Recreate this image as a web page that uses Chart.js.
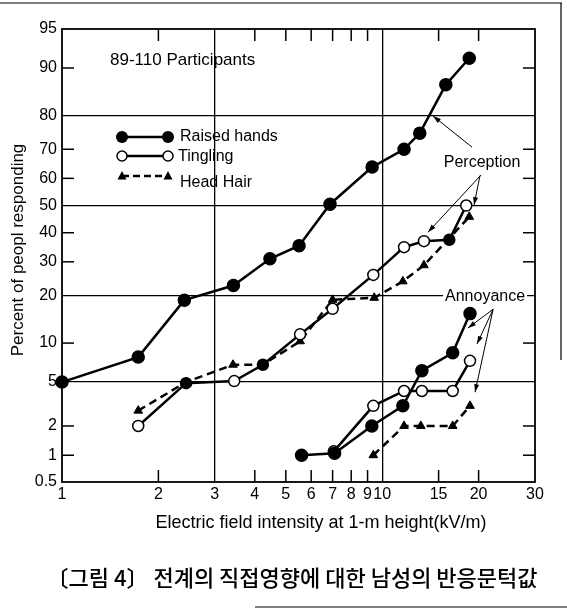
<!DOCTYPE html>
<html>
<head>
<meta charset="utf-8">
<script src="https://cdn.jsdelivr.net/npm/chart.js@4.4.1/dist/chart.umd.min.js"></script>
<style>
  html, body { margin: 0; padding: 0; background: #fff; }
  canvas { display: block; }
</style>
</head>
<body>
<canvas id="chart" width="567" height="611"></canvas>
<script>
// Perception
const percRaisedX = [1, 1.73, 2.41, 3.43, 4.46, 5.5, 6.87, 9.3, 11.7, 13.1, 15.8, 18.7];
const percRaisedY = [5, 7.9, 18.9, 22.8, 31, 35.4, 50.5, 64, 70, 75, 87, 91.5];
const percTingleX = [1.73, 2.44, 3.45, 4.24, 5.54, 7.0, 9.38, 11.7, 13.5, 16.2, 18.3];
const percTingleY = [2, 4.9, 5.1, 6.9, 11.5, 16.8, 25.9, 34.9, 37, 37.5, 50];
const percHairX = [1.73, 2.44, 3.42, 4.24, 5.54, 7.0, 9.44, 11.6, 13.5, 18.7];
const percHairY = [2.8, 5, 6.9, 6.9, 10.3, 19, 19.5, 24, 28.9, 45.8];

// Annoyance
const annRaisedX = [5.6, 7.1, 9.28, 11.6, 13.3, 16.6, 18.8];
const annRaisedY = [1, 1.05, 2, 3.1, 6.2, 8.5, 15.7];
const annTingleX = [7.06, 9.38, 11.7, 13.3, 16.6, 18.8];
const annTingleY = [1.1, 3.1, 4.2, 4.2, 4.2, 7.4];
const annHairX = [9.38, 11.7, 13.2, 16.6, 18.8];
const annHairY = [1, 2, 2, 2, 3.1];

// axes
const xTicks = [1, 2, 3, 4, 5, 6, 7, 8, 9, 10, 15, 20, 30];
const xGrid = [3, 10];
const yTickLabels = ['0.5', '1', '2', '5', '10', '20', '30', '40', '50', '60', '70', '80', '90', '95'];
const yGrid = ['5', '20', '50', '80'];

// normal probability paper: percent -> probit (Acklam)
function probit(pct) {
  const p = pct / 100;
  const a = [-39.69683028665376, 220.9460984245205, -275.9285104469687, 138.3577518672690, -30.66479806614716, 2.506628277459239];
  const b = [-54.47609879822406, 161.5858368580409, -155.6989798598866, 66.80131188771972, -13.28068155288572];
  const c = [-0.007784894002430293, -0.3223964580411365, -2.400758277161838, -2.549732539343734, 4.374664141464968, 2.938163982698783];
  const d = [0.007784695709041462, 0.3224671290700398, 2.445134137142996, 3.754408661907416];
  const pl = 0.02425;
  let q, r;
  if (p < pl) {
    q = Math.sqrt(-2 * Math.log(p));
    return (((((c[0]*q+c[1])*q+c[2])*q+c[3])*q+c[4])*q+c[5]) / ((((d[0]*q+d[1])*q+d[2])*q+d[3])*q+1);
  }
  if (p > 1 - pl) {
    q = Math.sqrt(-2 * Math.log(1 - p));
    return -(((((c[0]*q+c[1])*q+c[2])*q+c[3])*q+c[4])*q+c[5]) / ((((d[0]*q+d[1])*q+d[2])*q+d[3])*q+1);
  }
  q = p - 0.5; r = q * q;
  return (((((a[0]*r+a[1])*r+a[2])*r+a[3])*r+a[4])*r+a[5])*q / (((((b[0]*r+b[1])*r+b[2])*r+b[3])*r+b[4])*r+1);
}

function pts(xs, ys) {
  return xs.map((v, i) => ({ x: v, y: probit(ys[i]) }));
}

const FONT = '"Liberation Sans", Arial, sans-serif';

function solidSet(xs, ys, filled) {
  return {
    data: pts(xs, ys),
    borderColor: '#000',
    borderWidth: 2.5,
    pointRadius: filled ? 6 : 5.5,
    pointStyle: 'circle',
    pointBackgroundColor: filled ? '#000' : '#fff',
    pointBorderColor: '#000',
    pointBorderWidth: 1.5,
    tension: 0,
    clip: false
  };
}
function dashedSet(xs, ys) {
  return {
    data: pts(xs, ys),
    borderColor: '#000',
    borderWidth: 2.5,
    borderDash: [8, 5],
    pointRadius: 5,
    pointStyle: 'triangle',
    pointBackgroundColor: '#000',
    pointBorderColor: '#000',
    pointBorderWidth: 1,
    tension: 0,
    clip: false
  };
}

const percTingle = solidSet(percTingleX, percTingleY, false);
// overprinted points look solid in the print
percTingle.pointBackgroundColor = percTingleX.map((v, i) => (i === 1 || i === 3 || i === 9) ? '#000' : '#fff');

// text notes, positioned in data space (kV/m, percent)
const notes = [
  { text: 'Perception', x: 20.5, y: 65.7 },
  { text: 'Annoyance', x: 20.95, y: 19.7 }
];
const arrows = [
  { from: [19.07, 70.7], to: [14.41, 79.8] },
  { from: [20.35, 61.2], to: [13.9, 40.2] },
  { from: [20.2, 61.0], to: [19.35, 50.2] },
  { from: [22.2, 16.7], to: [18.53, 12.7] },
  { from: [22.2, 16.7], to: [19.77, 9.85] },
  { from: [22.2, 16.7], to: [19.49, 4.1] }
];

function line(ctx, x1, y1, x2, y2) {
  ctx.beginPath(); ctx.moveTo(x1, y1); ctx.lineTo(x2, y2); ctx.stroke();
}

const overlay = {
  id: 'overlay',
  afterDraw(chart) {
    const ctx = chart.ctx;
    const a = chart.chartArea;
    const xs = chart.scales.x, ys = chart.scales.y;
    ctx.save();
    ctx.strokeStyle = '#000';
    ctx.fillStyle = '#000';

    // page frame (scan border)
    ctx.lineWidth = 1.2;
    line(ctx, 0, 3, 562, 3);
    line(ctx, 561, 3, 561, 360);
    line(ctx, 255, 607, 567, 607);

    // plot box
    ctx.lineWidth = 1.8;
    ctx.strokeRect(a.left, a.top, a.right - a.left, a.bottom - a.top);

    // inward ticks
    ctx.lineWidth = 1.5;
    xTicks.forEach(v => {
      if (xGrid.includes(v) || v === 1 || v === 30) return;
      const px = xs.getPixelForValue(v);
      line(ctx, px, a.bottom, px, a.bottom - 12);
      line(ctx, px, a.top, px, a.top + 12);
    });
    yTickLabels.forEach((lab, i) => {
      if (yGrid.includes(lab) || i === 0 || i === yTickLabels.length - 1) return;
      const py = ys.getPixelForValue(probit(parseFloat(lab)));
      line(ctx, a.left, py, a.left + 12, py);
      line(ctx, a.right, py, a.right - 12, py);
    });

    // participants
    ctx.font = '17px ' + FONT;
    ctx.textAlign = 'left';
    ctx.textBaseline = 'middle';
    ctx.fillText('89-110 Participants', a.left + 48, a.top + 31);

    // legend
    const lx1 = a.left + 60, lx2 = a.left + 106;
    const rows = [a.top + 108, a.top + 127, a.top + 147];
    ctx.lineWidth = 2.5;
    line(ctx, lx1, rows[0], lx2, rows[0]);
    line(ctx, lx1, rows[1], lx2, rows[1]);
    ctx.setLineDash([7, 4]);
    line(ctx, lx1, rows[2], lx2, rows[2]);
    ctx.setLineDash([]);
    [lx1, lx2].forEach(px => {
      ctx.beginPath(); ctx.arc(px, rows[0], 6, 0, Math.PI * 2); ctx.fill();
      ctx.beginPath(); ctx.arc(px, rows[1], 5, 0, Math.PI * 2);
      ctx.fillStyle = '#fff'; ctx.fill(); ctx.lineWidth = 1.5; ctx.stroke();
      ctx.fillStyle = '#000';
      ctx.beginPath();
      ctx.moveTo(px, rows[2] - 5); ctx.lineTo(px + 4.5, rows[2] + 3.5); ctx.lineTo(px - 4.5, rows[2] + 3.5);
      ctx.closePath(); ctx.fill();
    });
    ctx.font = '16px ' + FONT;
    ctx.fillText('Raised hands', a.left + 118, rows[0]);
    ctx.fillText('Tingling', a.left + 116, rows[1] + 1);
    ctx.fillText('Head Hair', a.left + 118, rows[2] + 7);

    // annotation arrows
    ctx.lineWidth = 1;
    arrows.forEach(ar => {
      const x1 = xs.getPixelForValue(ar.from[0]), y1 = ys.getPixelForValue(probit(ar.from[1]));
      const x2 = xs.getPixelForValue(ar.to[0]), y2 = ys.getPixelForValue(probit(ar.to[1]));
      line(ctx, x1, y1, x2, y2);
      const ang = Math.atan2(y2 - y1, x2 - x1);
      ctx.beginPath();
      ctx.moveTo(x2, y2);
      ctx.lineTo(x2 - 8 * Math.cos(ang) + 2.5 * Math.sin(ang), y2 - 8 * Math.sin(ang) - 2.5 * Math.cos(ang));
      ctx.lineTo(x2 - 8 * Math.cos(ang) - 2.5 * Math.sin(ang), y2 - 8 * Math.sin(ang) + 2.5 * Math.cos(ang));
      ctx.closePath(); ctx.fill();
    });
    ctx.font = '16px ' + FONT;
    ctx.textAlign = 'center';
    notes.forEach(n => {
      const px = xs.getPixelForValue(n.x), py = ys.getPixelForValue(probit(n.y));
      const w = ctx.measureText(n.text).width;
      ctx.fillStyle = '#fff';
      ctx.fillRect(px - w / 2 - 2, py - 9, w + 4, 18);
      ctx.fillStyle = '#000';
      ctx.fillText(n.text, px, py);
    });

    // axis titles
    ctx.font = '18px ' + FONT;
    ctx.fillText('Electric field intensity at 1-m height(kV/m)', 321, 523);
    ctx.save();
    ctx.translate(18, 250);
    ctx.rotate(-Math.PI / 2);
    ctx.font = '17px ' + FONT;
    ctx.fillText('Percent of peopl responding', 0, 0);
    ctx.restore();

    // caption
    ctx.font = '500 22px "Noto Sans CJK KR", sans-serif';
    ctx.fillText('〔그림 4〕 전계의 직접영향에 대한 남성의 반응문턱값', 292, 578);

    ctx.restore();
  }
};

new Chart(document.getElementById('chart'), {
  type: 'line',
  data: {
    datasets: [
      solidSet(percRaisedX, percRaisedY, true),
      percTingle,
      dashedSet(percHairX, percHairY),
      solidSet(annRaisedX, annRaisedY, true),
      solidSet(annTingleX, annTingleY, false),
      dashedSet(annHairX, annHairY)
    ]
  },
  options: {
    responsive: false,
    animation: false,
    layout: { padding: { left: 0, top: 29, right: 32, bottom: 0 } },
    plugins: { legend: { display: false }, tooltip: { enabled: false } },
    scales: {
      x: {
        type: 'logarithmic',
        min: 1,
        max: 30,
        afterBuildTicks: s => { s.ticks = xTicks.map(v => ({ value: v })); },
        afterFit: s => { s.height = 129; },
        border: { display: false },
        grid: {
          drawTicks: false,
          lineWidth: 1.3,
          color: c => (c.tick && xGrid.includes(c.tick.value)) ? '#000' : 'rgba(0,0,0,0)'
        },
        ticks: {
          autoSkip: false,
          maxRotation: 0,
          padding: 3,
          color: '#000',
          font: { family: FONT, size: 16 },
          callback: v => String(v)
        }
      },
      y: {
        type: 'linear',
        min: probit(0.5),
        max: probit(95),
        afterBuildTicks: s => { s.ticks = yTickLabels.map(l => ({ value: probit(parseFloat(l)) })); },
        afterFit: s => { s.width = 62; },
        border: { display: false },
        grid: {
          drawTicks: false,
          lineWidth: 1.3,
          color: c => yGrid.includes(yTickLabels[c.index]) ? '#000' : 'rgba(0,0,0,0)'
        },
        ticks: {
          autoSkip: false,
          padding: 5,
          color: '#000',
          font: { family: FONT, size: 16 },
          callback: (v, i) => yTickLabels[i]
        }
      }
    }
  },
  plugins: [overlay]
});
</script>
</body>
</html>
